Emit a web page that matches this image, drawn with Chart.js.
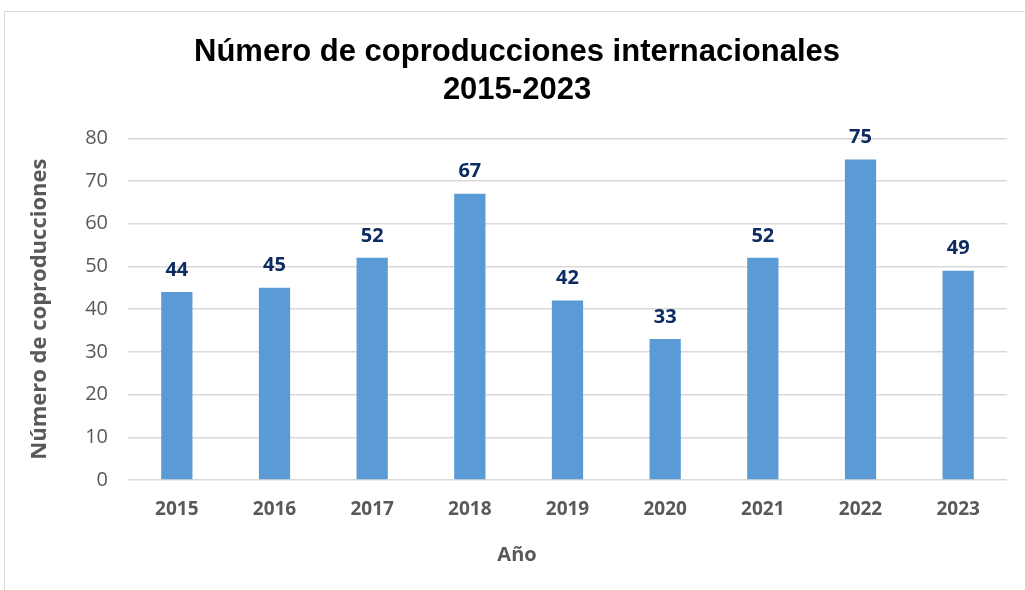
<!DOCTYPE html>
<html>
<head>
<meta charset="utf-8">
<script src="https://cdn.jsdelivr.net/npm/chart.js@4"></script>
<style>
    body { margin: 0; background: #fff; }
    #marco { position: absolute; left: 4px; top: 11px; width: 1030px; height: 590px; border: 1px solid #d9d9d9; }
    #wrap { position: absolute; left: 0; top: 0; width: 1020px; height: 578px; }
</style>
</head>
<body>
<div id="marco"><div id="wrap"><canvas id="chartCopro"></canvas></div></div>
<script>
const anios = ['2015', '2016', '2017', '2018', '2019', '2020', '2021', '2022', '2023'];
const coproducciones = [44, 45, 52, 67, 42, 33, 52, 75, 49];
const ejeY = [0, 10, 20, 30, 40, 50, 60, 70, 80];

const fuente = '"Open Sans", "Noto Sans", sans-serif';

// etiquetas encima de cada barra
const etiquetas = {
    id: 'etiquetas',
    afterDatasetsDraw(chart) {
        const ctx = chart.ctx;
        ctx.save();
        ctx.font = 'bold 20px ' + fuente;
        ctx.fillStyle = '#0d2b60';
        ctx.textAlign = 'center';
        ctx.textBaseline = 'bottom';
        chart.getDatasetMeta(0).data.forEach((bar, i) => {
            ctx.fillText(chart.data.datasets[0].data[i], bar.x, bar.y - 12);
        });
        ctx.restore();
    }
};

const ctxCopro = document.getElementById('chartCopro').getContext('2d');
new Chart(ctxCopro, {
    type: 'bar',
    data: {
        labels: anios,
        datasets: [{
            label: 'Número de coproducciones',
            data: coproducciones,
            backgroundColor: '#5b9bd5',
            categoryPercentage: 1,
            barPercentage: 0.32
        }]
    },
    options: {
        responsive: true,
        maintainAspectRatio: false,
        animation: false,
        layout: { padding: { left: 22, right: 18, top: 0, bottom: 0 } },
        scales: {
            y: {
                min: 0,
                max: 80,
                afterBuildTicks: (s) => { s.ticks = ejeY.map(v => ({ value: v })); },
                afterFit: (s) => { s.width = 101; },
                border: { display: false },
                grid: { color: '#d9d9d9', lineWidth: 1.5, drawTicks: false },
                ticks: { color: '#595959', padding: 20, font: { family: fuente, size: 20 } },
                title: {
                    display: true,
                    text: 'Número de coproducciones',
                    color: '#595959',
                    padding: { top: 0, bottom: 0 },
                    font: { family: fuente, size: 22, weight: 'bold' }
                }
            },
            x: {
                afterFit: (s) => { s.height = 63; },
                border: { display: false },
                grid: { display: false, drawTicks: false },
                ticks: { color: '#595959', padding: 18, font: { family: fuente, size: 19, weight: 'bold' } }
            }
        },
        plugins: {
            legend: { display: false },
            tooltip: { enabled: false },
            title: {
                display: true,
                text: ['Número de coproducciones internacionales', '2015-2023'],
                color: '#000',
                padding: { top: 21, bottom: 29 },
                font: { family: '"Liberation Sans", Arial, sans-serif', size: 31, weight: 'bold', lineHeight: 1.23 }
            },
            subtitle: {
                display: true,
                position: 'bottom',
                text: 'Año',
                color: '#595959',
                padding: { top: 0, bottom: 23 },
                font: { family: fuente, size: 20, weight: 'bold', lineHeight: 1.2 }
            }
        }
    },
    plugins: [etiquetas]
});
</script>
</body>
</html>
